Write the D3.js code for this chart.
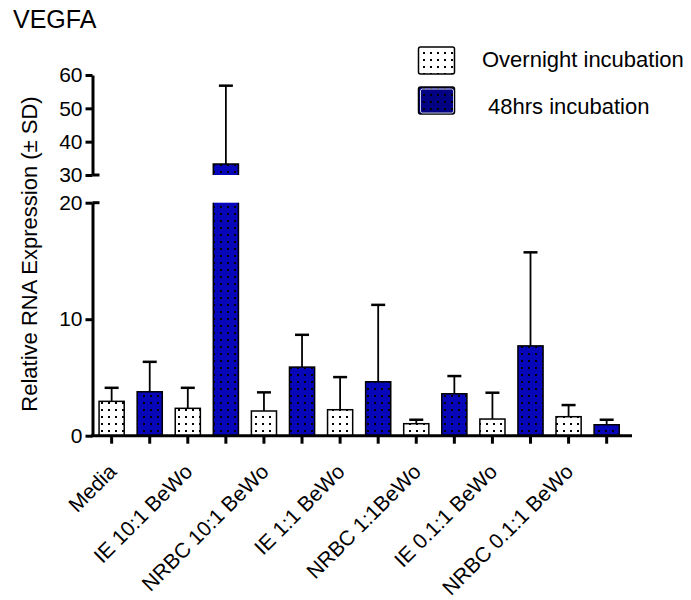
<!DOCTYPE html>
<html>
<head>
<meta charset="utf-8">
<script src="https://cdn.jsdelivr.net/npm/d3@7"></script>
<style>
	body { margin: 0; background: white; }
	text { font-family: "Liberation Sans", Arial, sans-serif; }
</style>
</head>
<body>
<script>
//data
let groups = ["Media", "IE 10:1 BeWo", "NRBC 10:1 BeWo", "IE 1:1 BeWo", "NRBC 1:1BeWo", "IE 0.1:1 BeWo", "NRBC 0.1:1 BeWo"];
let seriesNames = ["Overnight incubation", "48hrs incubation"];
let overnightMean = [2.95, 2.35, 2.12, 2.23, 1.03, 1.43, 1.63];
let overnightSD = [1.16, 1.76, 1.6, 2.8, 0.34, 2.26, 1.0];
let hrs48Mean = [3.77, 33.3, 5.89, 4.63, 3.6, 7.71, 0.94];
let hrs48SD = [2.57, 23.5, 2.77, 6.6, 1.52, 8.03, 0.43];
let lowTicks = [0, 10, 20];
let highTicks = [30, 40, 50, 60];

//svg the size of the window
let svg = d3.select("body").append("svg")
	.attr("width", 691)
	.attr("height", 600);

//flatten into one row per bar, overnight then 48hrs for each group
let data = [];
groups.forEach((g, i) => {
	data.push({key: i * 2, group: g, series: 0, mean: overnightMean[i], sd: overnightSD[i]});
	data.push({key: i * 2 + 1, group: g, series: 1, mean: hrs48Mean[i], sd: hrs48SD[i]});
});

//patterns: dots on white and dots on blue
let defs = svg.append("defs");
let blue = "#0707b9";
[["dotsWhite", "white"], ["dotsBlue", blue], ["dotsNavy", "#020282"]].forEach(p => {
	let pat = defs.append("pattern")
		.attr("id", p[0])
		.attr("patternUnits", "userSpaceOnUse")
		.attr("width", 7)
		.attr("height", 7);
	pat.append("rect").attr("width", 7).attr("height", 7).attr("fill", p[1]);
	pat.append("rect").attr("x", 3).attr("y", 3).attr("width", 2).attr("height", 2).attr("fill", "black");
});

let x = d3.scaleBand()
	.domain(data.map(d => d.key))
	.range([92.6, 625.7])
	.paddingInner(0.34)
	.paddingOuter(0.17);

let yLow = d3.scaleLinear().domain([0, 20]).range([435.7, 202.7]);
let yHigh = d3.scaleLinear().domain([30, 60]).range([175, 75]);

//picks the right segment of the broken axis
let yAny = v => v > 25 ? yHigh(v) : yLow(v);

let axisX = 92.5;

//y axis, lower part
let lowG = svg.append("g")
	.attr("transform", `translate(${axisX},0)`)
	.call(d3.axisLeft(yLow).tickValues(lowTicks).tickSize(7).tickSizeOuter(0).tickPadding(3));
//y axis, upper part
let highG = svg.append("g")
	.attr("transform", `translate(${axisX},0)`)
	.call(d3.axisLeft(yHigh).tickValues(highTicks).tickSize(7).tickSizeOuter(0).tickPadding(3));

[lowG, highG].forEach(g => {
	g.selectAll("path").attr("stroke-width", 3);
	g.selectAll("line").attr("stroke-width", 3);
	g.selectAll("text").attr("font-size", 21).attr("fill", "black");
});

//little marks at the ends of the break
svg.append("line")
	.attr("x1", axisX).attr("x2", axisX + 7)
	.attr("y1", yHigh(30)).attr("y2", yHigh(30))
	.attr("stroke", "black").attr("stroke-width", 3);
svg.append("line")
	.attr("x1", axisX).attr("x2", axisX + 7)
	.attr("y1", yLow(20)).attr("y2", yLow(20))
	.attr("stroke", "black").attr("stroke-width", 3);

//bars
let bars = svg.append("g");
data.forEach(d => {
	let fill = d.series == 0 ? "url(#dotsWhite)" : "url(#dotsBlue)";
	let x0 = x(d.key), x1 = x(d.key) + x.bandwidth();
	if (d.mean > 20) {
		//broken bar: lower piece open at top, upper piece open at bottom
		let b = yLow(0), t = yLow(20);
		bars.append("rect")
			.attr("x", x0).attr("width", x.bandwidth())
			.attr("y", t).attr("height", b - t)
			.attr("fill", fill);
		bars.append("path")
			.attr("d", `M${x0},${t}V${b}H${x1}V${t}`)
			.attr("fill", "none").attr("stroke", "black").attr("stroke-width", 1.5);
		let b2 = yHigh(30), t2 = yHigh(d.mean);
		bars.append("rect")
			.attr("x", x0).attr("width", x.bandwidth())
			.attr("y", t2).attr("height", b2 - t2)
			.attr("fill", fill);
		bars.append("path")
			.attr("d", `M${x0},${b2}V${t2}H${x1}V${b2}`)
			.attr("fill", "none").attr("stroke", "black").attr("stroke-width", 1.5);
	} else {
		bars.append("rect")
			.attr("x", x0).attr("width", x.bandwidth())
			.attr("y", yLow(d.mean)).attr("height", yLow(0) - yLow(d.mean))
			.attr("fill", fill).attr("stroke", "black").attr("stroke-width", 1.5);
	}
});

//error bars, upward only
let err = svg.append("g").attr("stroke", "black").attr("stroke-width", 1.8);
data.forEach(d => {
	let cx = x(d.key) + x.bandwidth() / 2;
	let top = yAny(d.mean + d.sd);
	err.append("line")
		.attr("x1", cx).attr("x2", cx)
		.attr("y1", yAny(d.mean)).attr("y2", top);
	err.append("line")
		.attr("x1", cx - 7).attr("x2", cx + 7)
		.attr("y1", top).attr("y2", top)
		.attr("stroke-width", 2.5);
});

//x axis, labels only under the overnight bars
let xG = svg.append("g")
	.attr("transform", `translate(0,${yLow(0)})`)
	.call(d3.axisBottom(x).tickSize(8).tickFormat(""));
xG.select(".domain").remove();
xG.selectAll("line").attr("stroke-width", 3);
svg.append("line")
	.attr("x1", axisX - 1.5).attr("x2", 632)
	.attr("y1", yLow(0)).attr("y2", yLow(0))
	.attr("stroke", "black").attr("stroke-width", 3);

svg.append("g").selectAll("text")
	.data(data.filter(d => d.series == 0))
	.enter().append("text")
	.attr("transform", d => `translate(${x(d.key) + x.bandwidth() / 2 + 6},473) rotate(-45)`)
	.attr("text-anchor", "end")
	.attr("font-size", 21)
	.text(d => d.group);

//axis title
svg.append("text")
	.attr("transform", "translate(37,254) rotate(-90)")
	.attr("text-anchor", "middle")
	.attr("font-size", 22)
	.text("Relative RNA Expression (± SD)");

//chart title
svg.append("text")
	.attr("x", 13)
	.attr("y", 28)
	.attr("font-size", 25)
	.text("VEGFA");

//legend
let legend = svg.append("g");
legend.append("rect")
	.attr("x", 418.5).attr("y", 47).attr("width", 36).attr("height", 27).attr("rx", 2)
	.attr("fill", "url(#dotsWhite)").attr("stroke", "black").attr("stroke-width", 1.5);
legend.append("rect")
	.attr("x", 418.5).attr("y", 87).attr("width", 36).attr("height", 27).attr("rx", 2)
	.attr("fill", "url(#dotsNavy)").attr("stroke", "black").attr("stroke-width", 1.5);
legend.append("rect")
	.attr("x", 420.5).attr("y", 89).attr("width", 33).attr("height", 24).attr("rx", 2)
	.attr("fill", "none").attr("stroke", "white").attr("stroke-width", 0.8);
legend.append("text")
	.attr("x", 482).attr("y", 67)
	.attr("font-size", 22)
	.text(seriesNames[0]);
legend.append("text")
	.attr("x", 488).attr("y", 114)
	.attr("font-size", 22)
	.text(seriesNames[1]);
</script>
</body>
</html>
